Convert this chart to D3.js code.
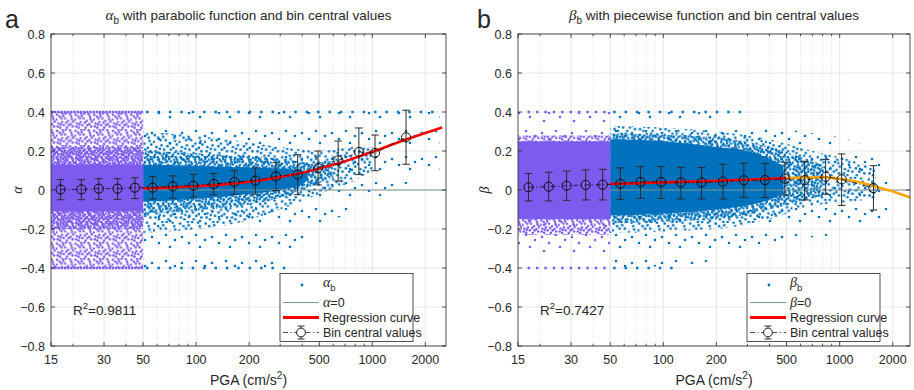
<!DOCTYPE html>
<html>
<head>
<meta charset="utf-8">
<script src="https://cdn.jsdelivr.net/npm/d3@7"></script>
<style>
body { margin: 0; background: #fff; }
text { font-family: "Liberation Sans", Arial, sans-serif; fill: #262626; }
.gr { font-family: "Liberation Serif", "Times New Roman", serif; font-style: italic; }
</style>
</head>
<body>
<script>
// axis ticks
var xMajor = [15, 30, 50, 100, 200, 500, 1000, 2000];
var xMinor = [20, 40, 60, 70, 80, 90, 300, 400, 600, 700, 800, 900];
var yTicks = [-0.8, -0.6, -0.4, -0.2, 0, 0.2, 0.4, 0.6, 0.8];

// bin central values: [PGA, centre, lower, upper]
var alphaBins = [
  [17.0, 0.003, -0.050, 0.053], [22.3, 0.003, -0.050, 0.053], [28.0, 0.007, -0.048, 0.058],
  [35.8, 0.007, -0.048, 0.058], [44.9, 0.012, -0.044, 0.063], [56.6, 0.012, -0.046, 0.068],
  [73.6, 0.019, -0.041, 0.072], [96.4, 0.022, -0.036, 0.080], [125.8, 0.031, -0.024, 0.085],
  [165, 0.041, -0.022, 0.099], [217, 0.048, -0.022, 0.113], [284, 0.070, -0.003, 0.140],
  [377, 0.080, -0.024, 0.181], [492, 0.113, 0.026, 0.200], [640, 0.152, 0.046, 0.251],
  [839, 0.195, 0.079, 0.318], [1036, 0.190, 0.099, 0.282], [1554, 0.270, 0.132, 0.409]
];
var betaBins = [
  [17.2, 0.014, -0.056, 0.085], [22.4, 0.017, -0.056, 0.091], [28.3, 0.022, -0.053, 0.097],
  [36.3, 0.026, -0.051, 0.103], [45.3, 0.027, -0.051, 0.106], [57.1, 0.032, -0.048, 0.113],
  [74.3, 0.041, -0.043, 0.120], [97.1, 0.041, -0.043, 0.120], [125.8, 0.039, -0.046, 0.116],
  [164.8, 0.039, -0.046, 0.116], [217.8, 0.043, -0.046, 0.132], [286, 0.050, -0.038, 0.137],
  [377, 0.051, -0.038, 0.137], [489, 0.058, -0.026, 0.142], [633, 0.050, -0.051, 0.147],
  [833, 0.068, -0.022, 0.157], [1026, 0.055, -0.079, 0.185], [1554, 0.010, -0.103, 0.125]
];

// regression curves: [PGA, value]
var alphaCurve = [[50, 0.008], [70, 0.012], [100, 0.019], [150, 0.030], [200, 0.042], [300, 0.066],
  [400, 0.088], [500, 0.110], [700, 0.148], [1000, 0.196], [1500, 0.254], [2000, 0.292], [2490, 0.320]];
var betaCurveLow = [[50, 0.031], [100, 0.039], [200, 0.047], [500, 0.061]];
var betaCurveHigh = [[500, 0.061], [630, 0.064], [820, 0.065], [1030, 0.055], [1280, 0.041],
  [1550, 0.020], [1920, -0.003], [2500, -0.038]];

// scatter cloud envelopes: [PGA, low, high]
var alphaPurpleCore = [[15, -0.11, 0.13], [50, -0.11, 0.13]];
var alphaPurpleMid = [[15, -0.2, 0.22], [50, -0.2, 0.22]];
var alphaPurpleOuter = [[15, -0.4, 0.4], [50, -0.4, 0.4]];
var alphaBlueCore = [[50, -0.06, 0.13], [100, -0.045, 0.125], [200, -0.02, 0.115], [300, 0.0, 0.11], [400, 0.03, 0.10], [430, 0.05, 0.08]];
var alphaBlueInner = [[50, -0.12, 0.20], [150, -0.09, 0.18], [300, -0.04, 0.16], [450, 0.02, 0.14], [600, 0.06, 0.15]];
var alphaBlueMid = [[50, -0.22, 0.30], [150, -0.18, 0.26], [300, -0.10, 0.22], [500, -0.02, 0.20], [800, 0.05, 0.22], [1000, 0.10, 0.22]];
var alphaBlueOuter = [[50, -0.4, 0.4], [250, -0.4, 0.4], [500, -0.2, 0.4], [1000, -0.05, 0.4], [2400, 0.1, 0.4]];

var betaPurpleCore = [[15, -0.15, 0.25], [50, -0.15, 0.25]];
var betaPurpleMid = [[15, -0.23, 0.28], [50, -0.23, 0.28]];
var betaPurpleOuter = [[15, -0.33, 0.4], [50, -0.33, 0.4]];
var betaBlueCore = [[50, -0.13, 0.26], [100, -0.12, 0.25], [200, -0.10, 0.22], [300, -0.08, 0.20], [400, -0.05, 0.16], [480, -0.02, 0.12]];
var betaBlueInner = [[50, -0.17, 0.29], [200, -0.15, 0.27], [400, -0.10, 0.22], [600, -0.06, 0.17], [800, -0.03, 0.13]];
var betaBlueMid = [[50, -0.22, 0.33], [200, -0.20, 0.30], [400, -0.15, 0.26], [700, -0.08, 0.20], [1200, -0.06, 0.15], [1600, -0.04, 0.11]];
var betaBlueOuter = [[50, -0.4, 0.4], [150, -0.38, 0.4], [300, -0.3, 0.35], [600, -0.25, 0.3], [1200, -0.22, 0.25], [1900, -0.2, 0.15]];

// clipped values sitting on +-0.4: [PGA from, PGA to, value]
var alphaPurpleRows = [[15, 50, 0.4], [15, 50, -0.4]];
var alphaBlueRows = [[52, 2400, 0.4], [52, 360, -0.4]];
var betaPurpleRows = [[17, 50, 0.4], [17, 50, -0.4]];
var betaBlueRows = [[52, 290, 0.4], [52, 120, -0.4]];

var BLUE = "#0072BD", PURPLE = "#7E5BEF", ZERO = "#7d9696", ORANGE = "#FFA500";

var svg = d3.select("body").append("svg").attr("width", 914).attr("height", 390);
var defs = svg.append("defs");

// speckle tiles so the cloud reads as dots
var speck = [[2,3],[16,1],[25,6],[9,9],[20,13],[4,17],[13,20],[27,22],[7,24],[23,2],[12,5],[28,14],
  [1,11],[18,24],[10,15],[24,18],[6,6],[15,9],[21,20],[3,22],[26,10],[11,1],[17,16],[8,19]];
function makeSpeckle(id, color, n, s) {
  var pat = defs.append("pattern").attr("id", id).attr("patternUnits", "userSpaceOnUse")
    .attr("width", 30 * s).attr("height", 26 * s);
  pat.selectAll("circle").data(speck.slice(0, n)).enter().append("circle")
    .attr("cx", function (d) { return d[0] * s; })
    .attr("cy", function (d) { return d[1] * s; })
    .attr("r", 1.3).attr("fill", color);
}
makeSpeckle("bOuter", BLUE, 5, 1);
makeSpeckle("bMid", BLUE, 24, 0.85);
makeSpeckle("bInner", BLUE, 24, 0.6);
makeSpeckle("pOuterA", PURPLE, 24, 0.62);
makeSpeckle("pMidA", PURPLE, 24, 0.5);
makeSpeckle("pOuterB", PURPLE, 6, 1);
makeSpeckle("pMidB", PURPLE, 24, 0.6);

function drawPanel(p) {
  var top = 34, bottom = 346;
  var x = d3.scaleLog().domain(p.xDomain).range([p.left, p.right]);
  var y = d3.scaleLinear().domain([-0.8, 0.8]).range([bottom, top]);
  var g = svg.append("g");
  var cx = (p.left + p.right) / 2;

  defs.append("clipPath").attr("id", "clip" + p.key).append("rect")
    .attr("x", p.left).attr("y", top).attr("width", p.right - p.left).attr("height", bottom - top);

  // grid
  g.selectAll(".gmin").data(xMinor).enter().append("line")
    .attr("x1", x).attr("x2", x).attr("y1", top).attr("y2", bottom)
    .attr("stroke", "#c8c8c8").attr("stroke-width", 0.6).attr("stroke-dasharray", "1,2");
  g.selectAll(".gmaj").data(xMajor.slice(1)).enter().append("line")
    .attr("x1", x).attr("x2", x).attr("y1", top).attr("y2", bottom)
    .attr("stroke", "#e0e0e0").attr("stroke-width", 0.8);
  g.selectAll(".gy").data(yTicks).enter().append("line")
    .attr("x1", p.left).attr("x2", p.right).attr("y1", y).attr("y2", y)
    .attr("stroke", "#e0e0e0").attr("stroke-width", 0.8);

  var plot = g.append("g").attr("clip-path", "url(#clip" + p.key + ")");
  var area = d3.area().x(function (d) { return x(d[0]); })
    .y0(function (d) { return y(d[1]); }).y1(function (d) { return y(d[2]); })
    .curve(d3.curveMonotoneX);
  function band(data, fill) { plot.append("path").datum(data).attr("d", area).attr("fill", fill); }
  function rows(data, color, dash) {
    plot.selectAll(null).data(data).enter().append("line")
      .attr("x1", function (d) { return x(d[0]); }).attr("x2", function (d) { return x(d[1]); })
      .attr("y1", function (d) { return y(d[2]); }).attr("y2", function (d) { return y(d[2]); })
      .attr("stroke", color).attr("stroke-width", 2.4).attr("stroke-dasharray", dash);
  }

  // blue cloud, then zero line, then purple cloud
  band(p.blueOuter, "url(#bOuter)");
  band(p.blueMid, "url(#bMid)");
  band(p.blueInner, "url(#bInner)");
  band(p.blueCore, BLUE);
  rows(p.blueRows, BLUE, "2.4,9");

  plot.append("line").attr("x1", p.left).attr("x2", p.right).attr("y1", y(0)).attr("y2", y(0))
    .attr("stroke", ZERO).attr("stroke-width", 1.2);

  band(p.purpleOuter, p.purpleOuterFill);
  band(p.purpleMid, p.purpleMidFill);
  band(p.purpleCore, PURPLE);
  rows(p.purpleRows, PURPLE, p.purpleDash);

  // regression curves
  var line = d3.line().x(function (d) { return x(d[0]); }).y(function (d) { return y(d[1]); })
    .curve(d3.curveMonotoneX);
  p.curves.forEach(function (c) {
    plot.append("path").datum(c.data).attr("d", line).attr("fill", "none")
      .attr("stroke", c.color).attr("stroke-width", 2.6);
  });

  // bin central values with error bars
  plot.append("path").datum(p.bins.map(function (d) { return [d[0], d[1]]; })).attr("d", d3.line()
      .x(function (d) { return x(d[0]); }).y(function (d) { return y(d[1]); }))
    .attr("fill", "none").attr("stroke", "#000").attr("stroke-width", 0.7)
    .attr("stroke-dasharray", "5,2.5,1.2,2.5");
  var eb = plot.selectAll(".eb").data(p.bins).enter().append("g");
  eb.append("line").attr("x1", function (d) { return x(d[0]); }).attr("x2", function (d) { return x(d[0]); })
    .attr("y1", function (d) { return y(d[2]); }).attr("y2", function (d) { return y(d[3]); })
    .attr("stroke", "#2a2a2a").attr("stroke-width", 1);
  [2, 3].forEach(function (k) {
    eb.append("line").attr("x1", function (d) { return x(d[0]) - 3.8; }).attr("x2", function (d) { return x(d[0]) + 3.8; })
      .attr("y1", function (d) { return y(d[k]); }).attr("y2", function (d) { return y(d[k]); })
      .attr("stroke", "#2a2a2a").attr("stroke-width", 1);
  });
  eb.append("circle").attr("cx", function (d) { return x(d[0]); }).attr("cy", function (d) { return y(d[1]); })
    .attr("r", 4.6).attr("fill", "none").attr("stroke", "#000").attr("stroke-width", 0.9);

  // axes box and ticks
  g.append("rect").attr("x", p.left).attr("y", top).attr("width", p.right - p.left).attr("height", bottom - top)
    .attr("fill", "none").attr("stroke", "#262626").attr("stroke-width", 0.8);
  var tk = g.append("g").attr("stroke", "#262626").attr("stroke-width", 0.8);
  [[xMajor, 4], [xMinor, 2.2]].forEach(function (t) {
    tk.selectAll(null).data(t[0]).enter().append("line")
      .attr("x1", x).attr("x2", x).attr("y1", bottom).attr("y2", bottom - t[1]);
    tk.selectAll(null).data(t[0]).enter().append("line")
      .attr("x1", x).attr("x2", x).attr("y1", top).attr("y2", top + t[1]);
  });
  tk.selectAll(null).data(yTicks).enter().append("line")
    .attr("x1", p.left).attr("x2", p.left + 4).attr("y1", y).attr("y2", y);
  tk.selectAll(null).data(yTicks).enter().append("line")
    .attr("x1", p.right).attr("x2", p.right - 4).attr("y1", y).attr("y2", y);

  g.selectAll(".xl").data(xMajor).enter().append("text")
    .attr("x", x).attr("y", 364).attr("text-anchor", "middle").attr("font-size", 12.5)
    .text(function (d) { return d; });
  g.selectAll(".yl").data(yTicks).enter().append("text")
    .attr("x", p.left - 6).attr("y", function (d) { return y(d) + 4.5; })
    .attr("text-anchor", "end").attr("font-size", 12.5)
    .text(function (d) { return d === 0 ? "0" : d3.format(".1f")(d); });

  // axis labels
  var xl = g.append("text").attr("x", cx).attr("y", 385).attr("text-anchor", "middle").attr("font-size", 14);
  xl.append("tspan").text("PGA (cm/s");
  xl.append("tspan").attr("dy", -6).attr("font-size", 10).text("2");
  xl.append("tspan").attr("dy", 6).text(")");
  g.append("text").attr("class", "gr").attr("transform", "translate(" + (p.left - 33) + "," + y(0) + ") rotate(-90)")
    .attr("text-anchor", "middle").attr("dy", 4).attr("font-size", 14).text(p.sym);

  // title
  var tt = g.append("text").attr("x", cx).attr("y", 20).attr("text-anchor", "middle").attr("font-size", 13.5);
  tt.append("tspan").attr("class", "gr").attr("font-size", 15).text(p.sym);
  tt.append("tspan").attr("dy", 4).attr("font-size", 10).text("b");
  tt.append("tspan").attr("dy", -4).text(" " + p.title);

  g.append("text").attr("x", p.tag).attr("y", 28).attr("font-size", 25).text(p.key);

  var r2 = g.append("text").attr("x", p.left + 22).attr("y", 315).attr("font-size", 13.5);
  r2.append("tspan").text("R");
  r2.append("tspan").attr("dy", -6).attr("font-size", 9.5).text("2");
  r2.append("tspan").attr("dy", 6).text("=" + p.r2);

  // legend
  var L = p.legX;
  var lg = g.append("g");
  lg.append("rect").attr("x", L).attr("y", 273.5).attr("width", 133).attr("height", 68)
    .attr("fill", "#fff").attr("stroke", "#262626").attr("stroke-width", 0.8);
  var sx0 = L + 3, sx1 = L + 39, tx = L + 43;
  lg.append("circle").attr("cx", (sx0 + sx1) / 2 + 1).attr("cy", 285).attr("r", 1.4).attr("fill", BLUE);
  lg.append("line").attr("x1", sx0).attr("x2", sx1).attr("y1", 302.5).attr("y2", 302.5)
    .attr("stroke", ZERO).attr("stroke-width", 1.2);
  lg.append("line").attr("x1", sx0).attr("x2", sx1).attr("y1", 317.5).attr("y2", 317.5)
    .attr("stroke", "#ff0000").attr("stroke-width", 3);
  lg.append("line").attr("x1", sx0).attr("x2", sx1).attr("y1", 332.5).attr("y2", 332.5)
    .attr("stroke", "#000").attr("stroke-width", 0.7).attr("stroke-dasharray", "5,2.5,1.2,2.5");
  var mx = (sx0 + sx1) / 2;
  lg.append("line").attr("x1", mx).attr("x2", mx).attr("y1", 326).attr("y2", 339).attr("stroke", "#2a2a2a");
  lg.append("line").attr("x1", mx - 3.5).attr("x2", mx + 3.5).attr("y1", 326).attr("y2", 326).attr("stroke", "#2a2a2a");
  lg.append("line").attr("x1", mx - 3.5).attr("x2", mx + 3.5).attr("y1", 339).attr("y2", 339).attr("stroke", "#2a2a2a");
  lg.append("circle").attr("cx", mx).attr("cy", 332.5).attr("r", 4.4).attr("fill", "#fff").attr("stroke", "#000").attr("stroke-width", 0.9);

  var t1 = lg.append("text").attr("x", tx).attr("y", 287).attr("font-size", 12.5);
  t1.append("tspan").attr("class", "gr").attr("font-size", 14).text(p.sym);
  t1.append("tspan").attr("dy", 4).attr("font-size", 9.5).text("b");
  var t2 = lg.append("text").attr("x", tx).attr("y", 306.5).attr("font-size", 12.5);
  t2.append("tspan").attr("class", "gr").attr("font-size", 14).text(p.sym);
  t2.append("tspan").text("=0");
  lg.append("text").attr("x", tx).attr("y", 322).attr("font-size", 12.5).text("Regression curve");
  lg.append("text").attr("x", tx).attr("y", 336.5).attr("font-size", 12.5).text("Bin central values");
}

drawPanel({
  key: "a", sym: "\u03b1", title: "with parabolic function and bin central values", r2: "0.9811",
  left: 51, right: 446, xDomain: [15, 2620], tag: 5, legX: 280,
  bins: alphaBins, curves: [{ data: alphaCurve, color: "#ff0000" }],
  purpleCore: alphaPurpleCore, purpleMid: alphaPurpleMid, purpleOuter: alphaPurpleOuter,
  purpleOuterFill: "url(#pOuterA)", purpleMidFill: "url(#pMidA)", purpleRows: alphaPurpleRows, purpleDash: "2.4,0.8",
  blueCore: alphaBlueCore, blueInner: alphaBlueInner, blueMid: alphaBlueMid, blueOuter: alphaBlueOuter,
  blueRows: alphaBlueRows
});
drawPanel({
  key: "b", sym: "\u03b2", title: "with piecewise function and bin central values", r2: "0.7427",
  left: 518, right: 910, xDomain: [15, 2505], tag: 477, legX: 747,
  bins: betaBins, curves: [{ data: betaCurveLow, color: "#ff0000" }, { data: betaCurveHigh, color: ORANGE }],
  purpleCore: betaPurpleCore, purpleMid: betaPurpleMid, purpleOuter: betaPurpleOuter,
  purpleOuterFill: "url(#pOuterB)", purpleMidFill: "url(#pMidB)", purpleRows: betaPurpleRows, purpleDash: "2.4,6",
  blueCore: betaBlueCore, blueInner: betaBlueInner, blueMid: betaBlueMid, blueOuter: betaBlueOuter,
  blueRows: betaBlueRows
});
</script>
</body>
</html>
